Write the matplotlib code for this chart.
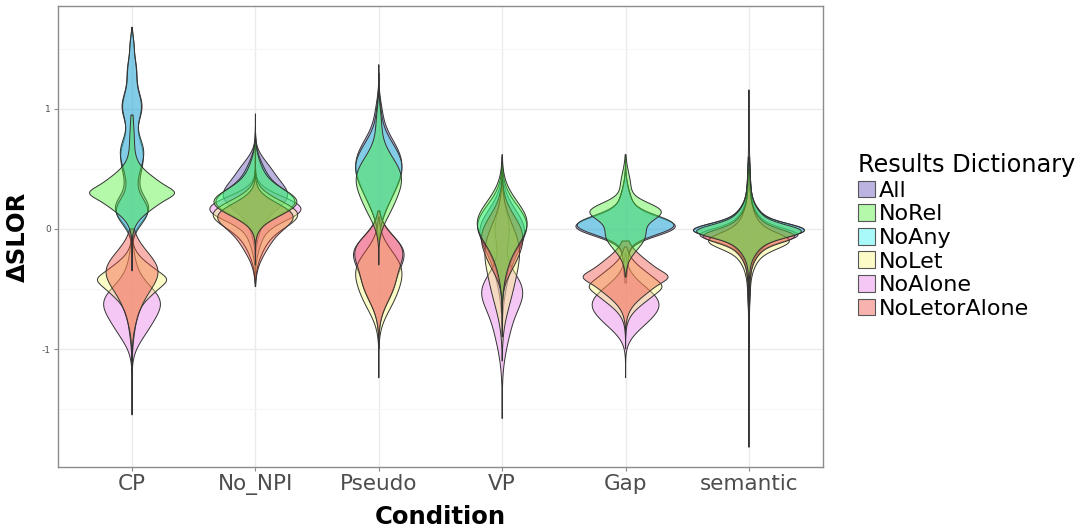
import numpy as np
import matplotlib
matplotlib.use("Agg")
import matplotlib.pyplot as plt
from matplotlib.patches import Patch
from matplotlib.colors import to_rgba

conditions = ["CP", "No_NPI", "Pseudo", "VP", "Gap", "semantic"]
dictionaries = ["All", "NoRel", "NoAny", "NoLet", "NoAlone", "NoLetorAlone"]
fill_colors = ["#5C43B4", "#43F22A", "#2AF2F2", "#F7F775", "#E675E6", "#F24337"]
fill_alpha = 0.4

# Mixture components (mean, sd, weight) describing each distribution of dSLOR,
# order of rows follows `dictionaries`; ranges are the data min / max.
cp_mix = [
    [(0.17, 0.11, 0.300), (0.42, 0.10, 0.050), (0.62, 0.14, 0.250), (1.02, 0.12, 0.191), (1.32, 0.12, 0.086), (1.55, 0.07, 0.014)],
    [(0.30, 0.13, 0.739), (0.30, 0.04, 0.052), (0.70, 0.20, 0.077)],
    [(0.15, 0.11, 0.285), (0.42, 0.10, 0.050), (0.64, 0.13, 0.245), (1.02, 0.12, 0.181), (1.32, 0.12, 0.080), (1.55, 0.07, 0.014)],
    [(-0.42, 0.12, 0.562), (-0.65, 0.18, 0.150), (-0.42, 0.04, 0.027)],
    [(-0.60, 0.13, 0.522), (-0.82, 0.13, 0.261), (-0.35, 0.15, 0.088)],
    [(-0.35, 0.16, 0.669), (-0.65, 0.15, 0.125)],
]
cp_range = [(-0.12, 1.68), (-0.35, 0.95), (-0.10, 1.68), (-1.10, -0.05), (-1.55, -0.10), (-1.20, 0.00)]

nonpi_mix = [
    [(0.28, 0.12, 0.608), (0.50, 0.10, 0.174), (0.05, 0.12, 0.086)],
    [(0.22, 0.11, 0.736), (0.45, 0.12, 0.130)],
    [(0.22, 0.11, 0.693), (0.45, 0.12, 0.171)],
    [(0.13, 0.11, 0.699), (-0.07, 0.14, 0.234)],
    [(0.17, 0.10, 0.736), (-0.05, 0.12, 0.120)],
    [(0.12, 0.10, 0.477), (-0.05, 0.15, 0.391)],
]
nonpi_range = [(-0.30, 0.96), (-0.30, 0.80), (-0.30, 0.85), (-0.45, 0.70), (-0.40, 0.70), (-0.48, 0.70)]

pseudo_mix = [
    [(0.55, 0.20, 0.736), (0.25, 0.15, 0.130), (1.00, 0.10, 0.025)],
    [(0.42, 0.18, 0.662), (0.15, 0.12, 0.100), (0.90, 0.12, 0.040)],
    [(0.53, 0.19, 0.699), (0.25, 0.15, 0.125), (1.00, 0.10, 0.020)],
    [(-0.32, 0.15, 0.477), (-0.57, 0.15, 0.301)],
    [(-0.18, 0.13, 0.457), (-0.45, 0.16, 0.375)],
    [(-0.17, 0.13, 0.435), (-0.45, 0.16, 0.391)],
]
pseudo_range = [(-0.10, 1.37), (-0.30, 1.30), (-0.10, 1.30), (-1.24, 0.10), (-1.00, 0.15), (-1.00, 0.15)]

vp_mix = [
    [(0.00, 0.17, 0.569), (-0.30, 0.20, 0.201)],
    [(0.05, 0.18, 0.738), (-0.30, 0.15, 0.075)],
    [(0.03, 0.17, 0.682), (-0.30, 0.15, 0.100)],
    [(-0.15, 0.20, 0.502), (-0.50, 0.20, 0.268)],
    [(-0.50, 0.15, 0.391), (-0.75, 0.22, 0.305), (0.00, 0.15, 0.173)],
    [(-0.06, 0.17, 0.560), (-0.30, 0.12, 0.100)],
]
vp_range = [(-0.80, 0.55), (-0.70, 0.62), (-0.70, 0.60), (-1.10, 0.50), (-1.58, 0.45), (-0.90, 0.50)]

gap_mix = [
    [(0.02, 0.08, 0.620), (0.20, 0.12, 0.120), (-0.20, 0.15, 0.070)],
    [(0.15, 0.07, 0.340), (-0.05, 0.12, 0.391), (0.35, 0.12, 0.100)],
    [(0.03, 0.08, 0.600), (0.20, 0.12, 0.110), (-0.18, 0.15, 0.070)],
    [(-0.48, 0.13, 0.696), (-0.48, 0.04, 0.027)],
    [(-0.62, 0.14, 0.749), (-0.80, 0.10, 0.084)],
    [(-0.40, 0.14, 0.796), (-0.40, 0.04, 0.054)],
]
gap_range = [(-0.45, 0.62), (-0.40, 0.62), (-0.40, 0.60), (-1.00, -0.15), (-1.24, -0.20), (-0.90, -0.10)]

sem_mix = [
    [(-0.01, 0.05, 0.268), (-0.01, 0.12, 0.401), (0.00, 0.35, 0.176)],
    [(-0.02, 0.05, 0.250), (-0.02, 0.12, 0.390), (0.10, 0.25, 0.120)],
    [(-0.01, 0.05, 0.259), (-0.02, 0.12, 0.421), (0.00, 0.35, 0.176)],
    [(-0.10, 0.06, 0.221), (-0.10, 0.13, 0.326), (-0.05, 0.35, 0.176)],
    [(-0.05, 0.05, 0.230), (-0.05, 0.12, 0.370), (0.00, 0.35, 0.150)],
    [(-0.06, 0.05, 0.209), (-0.06, 0.12, 0.361), (-0.05, 0.30, 0.120)],
]
sem_range = [(-1.82, 1.16), (-0.90, 0.60), (-1.00, 0.60), (-0.90, 0.50), (-1.00, 0.55), (-1.00, 0.50)]

all_mix = [cp_mix, nonpi_mix, pseudo_mix, vp_mix, gap_mix, sem_mix]
all_range = [cp_range, nonpi_range, pseudo_range, vp_range, gap_range, sem_range]


def density(y, comps):
    d = np.zeros_like(y)
    for m, s, w in comps:
        d += w / (s * np.sqrt(2 * np.pi)) * np.exp(-0.5 * ((y - m) / s) ** 2)
    return d


curves = []
gmax = 0.0
for ci in range(len(conditions)):
    row = []
    for gi in range(len(dictionaries)):
        lo, hi = all_range[ci][gi]
        y = np.linspace(lo, hi, 600)
        d = density(y, all_mix[ci][gi])
        gmax = max(gmax, d.max())
        row.append((y, d))
    curves.append(row)

W, H = 1083, 530
fig = plt.figure(figsize=(W / 100, H / 100), dpi=100)
ax = fig.add_axes([58 / W, 1 - 467 / H, (823 - 58) / W, (467 - 6) / H])

# groups are drawn in alphabetical order of the dictionary name
draw_order = sorted(range(len(dictionaries)), key=lambda k: dictionaries[k])
edge = "#333333"
for ci in range(len(conditions)):
    xc = ci + 1
    for gi in draw_order:
        y, d = curves[ci][gi]
        hw = 0.45 * d / gmax
        xs = np.concatenate([xc - hw, (xc + hw)[::-1]])
        ys = np.concatenate([y, y[::-1]])
        ax.fill(xs, ys, facecolor=to_rgba(fill_colors[gi], fill_alpha), edgecolor=edge,
                linewidth=0.7, zorder=3)

ax.set_xlim(0.4, 6.6)
ax.set_ylim(-1.983, 1.858)
ax.set_xticks(range(1, 7))
ax.set_xticklabels(conditions)
ax.set_yticks([-1, 0, 1])
ax.set_yticklabels(["-1", "0", "1"])
ax.set_yticks([-1.5, -0.5, 0.5, 1.5], minor=True)
ax.grid(True, which="major", color="#EBEBEB", linewidth=1.0, zorder=0)
ax.grid(True, which="minor", axis="y", color="#F5F5F5", linewidth=0.6, zorder=0)
ax.set_axisbelow(True)
for sp in ax.spines.values():
    sp.set_color("#8C8C8C")
    sp.set_linewidth(1.0)
ax.tick_params(axis="x", which="major", length=3, color="#8C8C8C", labelsize=15.5,
               labelcolor="#4D4D4D", pad=2)
ax.tick_params(axis="y", which="major", length=3, color="#8C8C8C", labelsize=6.5,
               labelcolor="#4D4D4D", pad=2)
ax.tick_params(axis="y", which="minor", length=0)
ax.set_xlabel("Condition", fontsize=17.5, fontweight="bold", labelpad=7)
ax.set_ylabel("ΔSLOR", fontsize=17.5, fontweight="bold", labelpad=9)

handles = [Patch(facecolor=to_rgba(c, fill_alpha), edgecolor="#555555", linewidth=0.8)
           for c in fill_colors]
leg = fig.legend(handles, dictionaries, title="Results Dictionary", loc="upper left",
                 bbox_to_anchor=(858 / W, 1 - 153 / H), frameon=False, fontsize=16,
                 title_fontsize=17.3, handlelength=0.78, handleheight=0.78,
                 handletextpad=0.15, labelspacing=0.16, borderpad=0, borderaxespad=0,
                 alignment="left")

fig.savefig("out.png", dpi=100)
